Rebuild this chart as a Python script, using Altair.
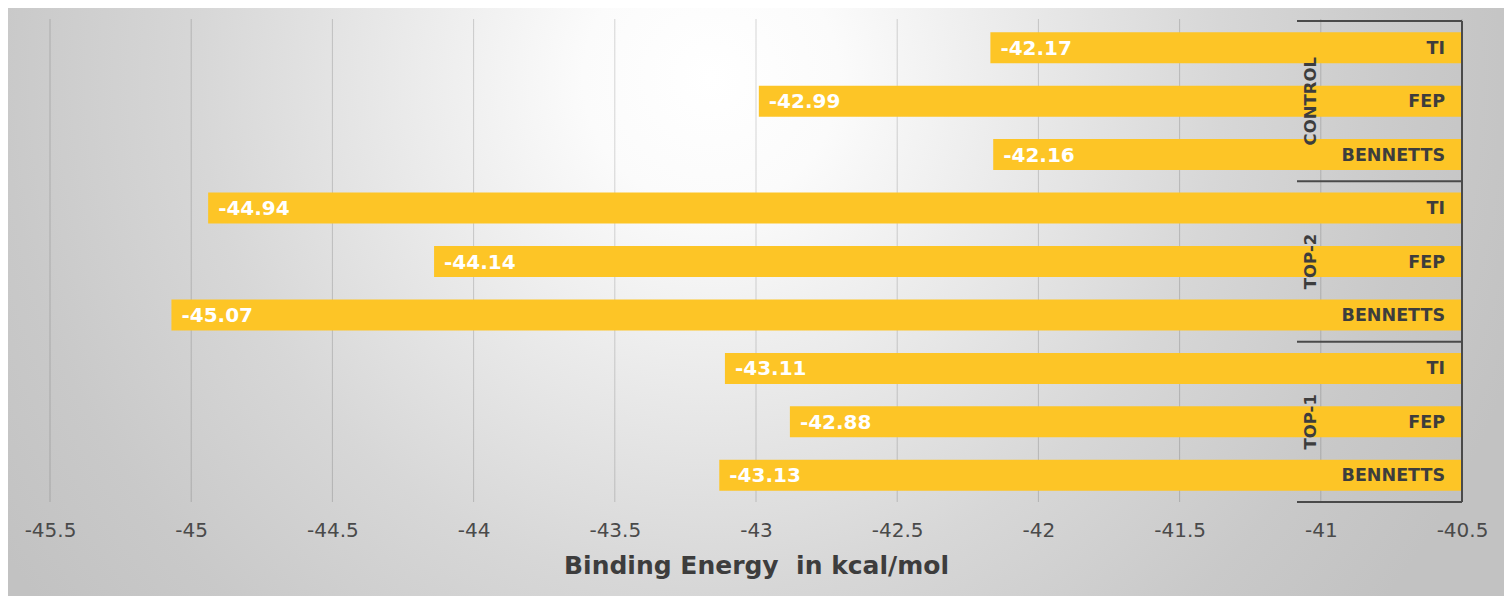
import altair as alt
import pandas as pd

# ---- data ----
groups = ["CONTROL"] * 3 + ["TOP-2"] * 3 + ["TOP-1"] * 3
methods = ["TI", "FEP", "BENNETTS"] * 3
values = [-42.17, -42.99, -42.16, -44.94, -44.14, -45.07, -43.11, -42.88, -43.13]
group_names = ["CONTROL", "TOP-2", "TOP-1"]
tick_values = [-45.5, -45, -44.5, -44, -43.5, -43, -42.5, -42, -41.5, -41, -40.5]
x_min, x_max = -45.5, -40.5
axis_title = "Binding Energy \u00a0in kcal/mol"

keys = [g + "|" + m for g, m in zip(groups, methods)]
df = pd.DataFrame({"group": groups, "method": methods, "value": values, "key": keys})
gdf = pd.DataFrame({"group": group_names, "key": [g + "|FEP" for g in group_names]})
tdf = pd.DataFrame({"t": tick_values})

W, H = 1412, 481
step = H / 9.0
FONT = "DejaVu Sans"
BAR = "#FDC526"
DARK = "#3d3d3d"

xscale = alt.Scale(domain=[x_min, x_max], nice=False, zero=False)
yscale = alt.Scale(domain=keys, paddingInner=0.42, paddingOuter=0.21)
xaxis = alt.Axis(values=tick_values, title=axis_title, grid=False, ticks=False,
                 domain=False, labelFont=FONT, labelFontSize=20, labelColor="#4a4a4a",
                 labelPadding=18, titleFont=FONT, titleFontSize=25,
                 titleFontWeight="bold", titleColor=DARK, titlePadding=13,
                 labelFlush=False, labelExpr="'' + datum.value", zindex=1)

# background: unit square of the gradient covers the rect (scaled by its width)
bg_fill = alt.RadialGradient(
    gradient="radial",
    stops=[
        alt.GradientStop(color="#ffffff", offset=0),
        alt.GradientStop(color="#fbfbfb", offset=0.15),
        alt.GradientStop(color="#d7d7d7", offset=0.6),
        alt.GradientStop(color="#c9c9c9", offset=0.83),
        alt.GradientStop(color="#c2c2c2", offset=1),
    ],
    x1=0.47, y1=0.35, r1=0, x2=0.47, y2=0.35, r2=0.57,
)

bg = alt.Chart(pd.DataFrame({"a": [0]})).mark_rect(fill=bg_fill, strokeWidth=0).encode(
    x=alt.value(-42), x2=alt.value(W + 42), y=alt.value(-13), y2=alt.value(H + 94)
)

grid = alt.Chart(tdf).mark_rule(color="#000000", opacity=0.16, strokeWidth=1).encode(
    x=alt.X("t:Q", scale=xscale, axis=xaxis),
    y=alt.value(-2), y2=alt.value(H),
)

bars = alt.Chart(df).mark_bar(color=BAR).encode(
    x=alt.X("value:Q", scale=xscale, axis=xaxis),
    x2=alt.datum(x_max),
    y=alt.Y("key:N", scale=yscale, axis=None),
)

vlabels = alt.Chart(df).transform_calculate(lbl="'' + datum.value").mark_text(
    align="left", baseline="middle", dx=10, dy=1,
    font=FONT, fontSize=20, fontWeight="bold", color="white").encode(
    x=alt.X("value:Q", scale=xscale, axis=xaxis),
    y=alt.Y("key:N", scale=yscale, axis=None),
    text="lbl:N",
)

mlabels = alt.Chart(df).mark_text(align="right", baseline="middle", dx=-17, dy=1,
                                   font=FONT, fontSize=17.5, fontWeight="bold",
                                   color=DARK).encode(
    x=alt.datum(x_max),
    y=alt.Y("key:N", scale=yscale, axis=None),
    text="method:N",
)

glabels = alt.Chart(gdf).mark_text(align="center", baseline="middle", angle=270,
                                    font=FONT, fontSize=16.5, fontWeight="bold",
                                    color=DARK).encode(
    x=alt.value(W - 151),
    y=alt.Y("key:N", scale=yscale, axis=None),
    text="group:N",
)

vline = alt.Chart(pd.DataFrame({"a": [0]})).mark_rule(color="#4a4a4a", strokeWidth=2).encode(
    x=alt.value(W), y=alt.value(0), y2=alt.value(H)
)

hdf = pd.DataFrame({"b": [0, 3, 6, 9]})
hlines = alt.Chart(hdf).transform_calculate(py="datum.b * %f" % step).mark_rule(
    color="#4a4a4a", strokeWidth=2).encode(
    x=alt.value(W - 165), x2=alt.value(W),
    y=alt.Y("py:Q", scale=None, axis=None),
)

chart = alt.layer(bg, grid, bars, vlabels, mlabels, glabels, vline, hlines).properties(
    width=W, height=H,
    autosize=alt.AutoSizeParams(type="none"),
    padding={"left": 42, "top": 13, "right": 42, "bottom": 94},
).configure_view(stroke=None)

chart.save("out.html", embed_options={"renderer": "svg", "actions": False})
